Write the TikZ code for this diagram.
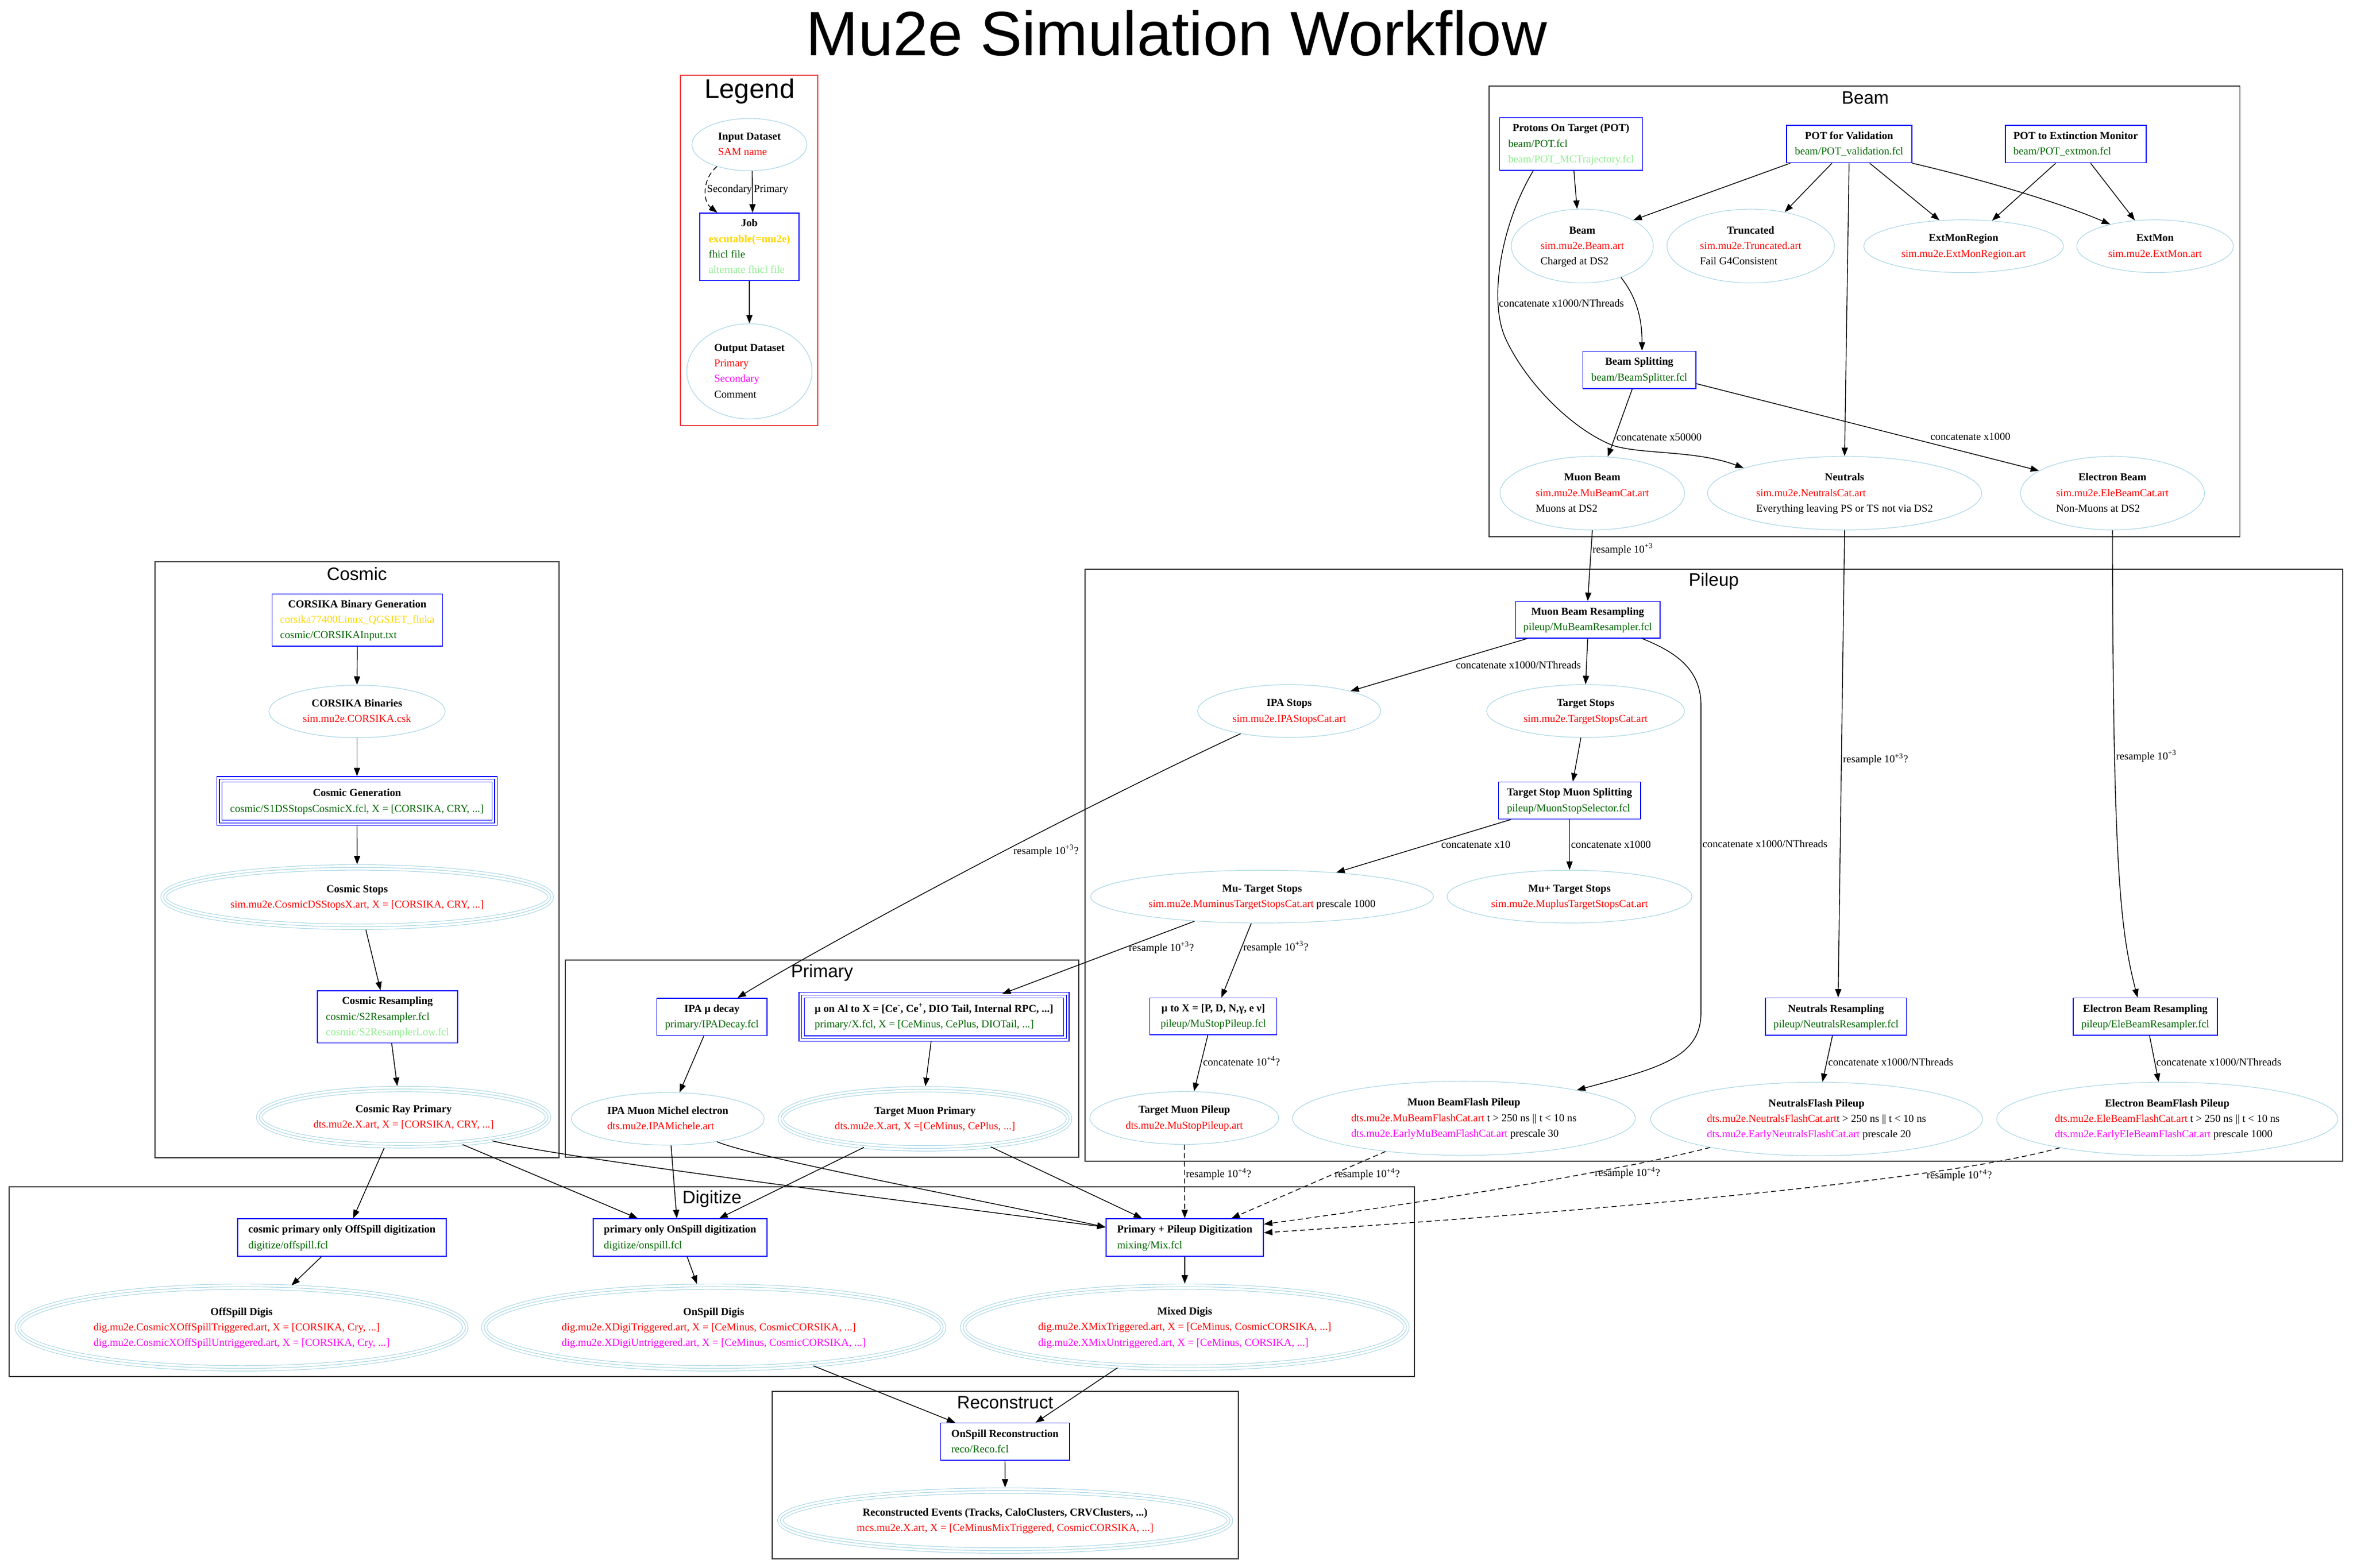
\documentclass[tikz,border=0pt]{standalone}
\usepackage{fontspec}
\setmainfont{Liberation Serif}
\newfontfamily\headfont{Liberation Sans}
\usepackage{tikz}
\usetikzlibrary{arrows.meta,shapes.geometric}

\definecolor{boxblue}{RGB}{0,0,255}
\definecolor{dsblue}{RGB}{173,216,230}
\definecolor{fclgreen}{RGB}{0,100,0}
\definecolor{altgreen}{RGB}{144,238,144}
\definecolor{exegold}{RGB}{255,215,0}
\definecolor{outred}{RGB}{255,0,0}
\definecolor{outmag}{RGB}{255,0,255}
\definecolor{legred}{RGB}{240,64,64}

\newlength{\pxu}
\setlength{\pxu}{1.3333pt}

% bold title over left aligned lines
\newcommand{\nlab}[2]{\begin{tabular}{@{}l@{}}\multicolumn{1}{@{}c@{}}{\bfseries #1}\\#2\end{tabular}}
\newcommand{\fcl}[1]{\textcolor{fclgreen}{#1}}
\newcommand{\altfcl}[1]{\textcolor{altgreen}{#1}}
\newcommand{\outp}[1]{\textcolor{outred}{#1}}
\newcommand{\outs}[1]{\textcolor{outmag}{#1}}
\newcommand{\exe}[1]{\textcolor{exegold}{#1}}

\begin{document}
\begin{tikzpicture}[
			x=1.3333pt, y=-1.3333pt,
			font=\fontsize{9.5}{13.8}\selectfont,
			>={Triangle[length=7.5pt,width=5.5pt]},
			line width=0.7pt,
			job/.style 2 args = {draw=boxblue, line width=0.8pt, rectangle, inner sep=0pt, minimum width=#1*\pxu, minimum height=#2*\pxu},
			jobtriple/.style 2 args = {job={#1}{#2}, line width=0.6pt, preaction={draw=boxblue, line width=5.4pt}, preaction={draw=white, line width=4.2pt}},
			dataset/.style 2 args = {draw=dsblue, line width=0.6pt, ellipse, inner sep=0pt, minimum width=2*#1*\pxu, minimum height=2*#2*\pxu},
			dsettriple/.style 2 args = {dataset={#1}{#2}, preaction={draw=dsblue, line width=5.4pt}, preaction={draw=white, line width=4.2pt}},
			lbl/.style = {inner sep=1pt},
			dashedge/.style = {dash pattern=on 4.5pt off 3pt},
			cluster/.style = {draw=black!80, line width=1pt},
			ctitle/.style = {font=\headfont\fontsize{16}{19}\selectfont}
		]
		\useasboundingbox (0,0) rectangle (1568,1045);
		\node[font=\headfont\fontsize{55.7}{60}\selectfont] (title) at (784,22) {Mu2e Simulation Workflow};
		% Draw the clusters.
		\draw[cluster, draw=legred] (453.5,50) rectangle (545,283.5);
		\node[font=\headfont\fontsize{24}{28}\selectfont] (legendtitle) at (499.5,60.8) {Legend};
		\draw[cluster] (992.4,57.3) rectangle (1492.6,357.6);
		\node[ctitle] (beamtitle) at (1243,65.2) {Beam};
		\draw[cluster] (103.3,374.3) rectangle (372.6,771.5);
		\node[ctitle] (cosmictitle) at (237.8,382.5) {Cosmic};
		\draw[cluster] (722.9,379.3) rectangle (1561,774);
		\node[ctitle] (pileuptitle) at (1142,387.5) {Pileup};
		\draw[cluster] (376.8,640) rectangle (718.7,771.4);
		\node[ctitle] (primarytitle) at (547.8,648.2) {Primary};
		\draw[cluster] (6,791) rectangle (942.7,917.6);
		\node[ctitle] (digitizetitle) at (474.5,799.1) {Digitize};
		\draw[cluster] (514.5,927.4) rectangle (825.3,1039.1);
		\node[ctitle] (recotitle) at (669.8,935) {Reconstruct};
		% Legend.
		\node[dataset={38.3}{17.4}] (legin) at (499.4,96.4) {\nlab{Input Dataset}{\outp{SAM name}}};
		\node[job={66.1}{45}] (legjob) at (499.4,164.5) {\nlab{Job}{\exe{\bfseries excutable(=mu2e)}\\\fcl{fhicl file}\\\altfcl{alternate fhicl file}}};
		\node[dataset={41.7}{31.7}] (legout) at (499.4,247.5) {\nlab{Output Dataset}{\outp{Primary}\\\outs{Secondary}\\Comment}};
		% Beam.
		\node[job={95.3}{35.1}] (pot) at (1046.9,96) {\nlab{Protons On Target (POT)}{\fcl{beam/POT.fcl}\\\altfcl{beam/POT\_MCTrajectory.fcl}}};
		\node[job={83.5}{24.9}] (potval) at (1232.2,96) {\nlab{POT for Validation}{\fcl{beam/POT\_validation.fcl}}};
		\node[job={93.9}{24.9}] (potext) at (1383.2,96) {\nlab{POT to Extinction Monitor}{\fcl{beam/POT\_extmon.fcl}}};
		\node[dataset={47.3}{24.6}] (beam) at (1054.4,164) {\nlab{Beam}{\outp{sim.mu2e.Beam.art}\\Charged at DS2}};
		\node[dataset={55.8}{24.6}] (trunc) at (1166.6,164) {\nlab{Truncated}{\outp{sim.mu2e.Truncated.art}\\Fail G4Consistent}};
		\node[dataset={66.5}{17.6}] (extreg) at (1308.5,164.1) {\nlab{ExtMonRegion}{\outp{sim.mu2e.ExtMonRegion.art}}};
		\node[dataset={52.2}{17.6}] (extmon) at (1436.1,164.1) {\nlab{ExtMon}{\outp{sim.mu2e.ExtMon.art}}};
		\node[job={75.3}{24.9}] (bsplit) at (1092.4,246.5) {\nlab{Beam Splitting}{\fcl{beam/BeamSplitter.fcl}}};
		\node[dataset={61.5}{24.5}] (mubeam) at (1061.1,328.7) {\nlab{Muon Beam}{\outp{sim.mu2e.MuBeamCat.art}\\Muons at DS2}};
		\node[dataset={91.3}{24.5}] (neutrals) at (1229.2,328.7) {\nlab{Neutrals}{\outp{sim.mu2e.NeutralsCat.art}\\Everything leaving PS or TS not via DS2}};
		\node[dataset={61.3}{24.5}] (elebeam) at (1407.7,328.7) {\nlab{Electron Beam}{\outp{sim.mu2e.EleBeamCat.art}\\Non-Muons at DS2}};
		% Cosmic.
		\node[job={113.5}{34.7}] (cbg) at (238.1,413.2) {\nlab{CORSIKA Binary Generation}{\exe{corsika77400Linux\_QGSJET\_fluka}\\\fcl{cosmic/CORSIKAInput.txt}}};
		\node[dataset={58.7}{17.5}] (cbin) at (237.9,474.2) {\nlab{CORSIKA Binaries}{\outp{sim.mu2e.CORSIKA.csk}}};
		\node[jobtriple={183.4}{29}] (cgen) at (237.9,533.9) {\nlab{Cosmic Generation}{\fcl{cosmic/S1DSStopsCosmicX.fcl, X = [CORSIKA, CRY, ...]}}};
		\node[dsettriple={129}{19.8}] (cstops) at (238,597.9) {\nlab{Cosmic Stops}{\outp{sim.mu2e.CosmicDSStopsX.art, X = [CORSIKA, CRY, ...]}}};
		\node[job={93.4}{34.7}] (cresamp) at (258.2,677.7) {\nlab{Cosmic Resampling}{\fcl{cosmic/S2Resampler.fcl}\\\altfcl{cosmic/S2ResamplerLow.fcl}}};
		\node[dsettriple={96.2}{18.8}] (crp) at (269,744.6) {\nlab{Cosmic Ray Primary}{\outp{dts.mu2e.X.art, X = [CORSIKA, CRY, ...]}}};
		% Pileup.
		\node[job={96.2}{24.4}] (mbr) at (1058,413.1) {\nlab{Muon Beam Resampling}{\fcl{pileup/MuBeamResampler.fcl}}};
		\node[dataset={61}{17.6}] (ipastops) at (859.1,473.9) {\nlab{IPA Stops}{\outp{sim.mu2e.IPAStopsCat.art}}};
		\node[dataset={65.9}{17.6}] (tstops) at (1056.6,473.9) {\nlab{Target Stops}{\outp{sim.mu2e.TargetStopsCat.art}}};
		\node[job={94.7}{24.7}] (tsms) at (1045.9,533.6) {\nlab{Target Stop Muon Splitting}{\fcl{pileup/MuonStopSelector.fcl}}};
		\node[dataset={114.2}{17.6}] (muminus) at (841,597.6) {\nlab{Mu- Target Stops}{\outp{sim.mu2e.MuminusTargetStopsCat.art} prescale 1000}};
		\node[dataset={81.6}{17.6}] (muplus) at (1045.9,597.6) {\nlab{Mu+ Target Stops}{\outp{sim.mu2e.MuplusTargetStopsCat.art}}};
		\node[job={84.7}{24.4}] (mutox) at (808.5,677.4) {\nlab{μ to X = [P, D, N,γ, e ν]}{\fcl{pileup/MuStopPileup.fcl}}};
		\node[dataset={62.9}{17.6}] (tmpile) at (789.2,745.1) {\nlab{Target Muon Pileup}{\outp{dts.mu2e.MuStopPileup.art}}};
		\node[dataset={114.2}{24.7}] (mbflash) at (975.5,745.3) {\nlab{Muon BeamFlash Pileup}{\outp{dts.mu2e.MuBeamFlashCat.art} t > 250 ns || t < 10 ns\\\outs{dts.mu2e.EarlyMuBeamFlashCat.art} prescale 30}};
		\node[job={94}{24.9}] (nresamp) at (1223.5,677.6) {\nlab{Neutrals Resampling}{\fcl{pileup/NeutralsResampler.fcl}}};
		\node[job={96.2}{24.9}] (ebr) at (1429.6,677.6) {\nlab{Electron Beam Resampling}{\fcl{pileup/EleBeamResampler.fcl}}};
		\node[dataset={110.6}{24.5}] (nflash) at (1210.5,745.8) {\nlab{NeutralsFlash Pileup}{\outp{dts.mu2e.NeutralsFlashCat.art}t > 250 ns || t < 10 ns\\\outs{dts.mu2e.EarlyNeutralsFlashCat.art} prescale 20}};
		\node[dataset={113.6}{24.5}] (ebflash) at (1444.2,745.8) {\nlab{Electron BeamFlash Pileup}{\outp{dts.mu2e.EleBeamFlashCat.art} t > 250 ns || t < 10 ns\\\outs{dts.mu2e.EarlyEleBeamFlashCat.art} prescale 1000}};
		% Primary.
		\node[job={73.4}{24.9}] (ipadecay) at (474.4,677.8) {\nlab{IPA μ decay}{\fcl{primary/IPADecay.fcl}}};
		\node[jobtriple={176.4}{28.9}] (mual) at (622.4,677.7) {\nlab{μ on Al to X = [Ce\textsuperscript{-}, Ce\textsuperscript{+}, DIO Tail, Internal RPC, ...]}{\fcl{primary/X.fcl, X = [CeMinus, CePlus, DIOTail, ...]}}};
		\node[dataset={64.2}{17.5}] (ipamichel) at (445,745.7) {\nlab{IPA Muon Michel electron}{\outp{dts.mu2e.IPAMichele.art}}};
		\node[dsettriple={96}{19.7}] (tmprim) at (616.4,745.7) {\nlab{Target Muon Primary}{\outp{dts.mu2e.X.art, X =[CeMinus, CePlus, ...]}}};
		% Digitize.
		\node[job={138.9}{25}] (offdig) at (227.9,824.8) {\nlab{cosmic primary only OffSpill digitization}{\fcl{digitize/offspill.fcl}}};
		\node[job={115.9}{25}] (ondig) at (453.2,824.8) {\nlab{primary only OnSpill digitization}{\fcl{digitize/onspill.fcl}}};
		\node[job={104.9}{25}] (mixdig) at (789.5,824.8) {\nlab{Primary + Pileup Digitization}{\fcl{mixing/Mix.fcl}}};
		\node[dsettriple={149.1}{27.2}] (offdigis) at (161,884.8) {\nlab{OffSpill Digis}{\outp{dig.mu2e.CosmicXOffSpillTriggered.art, X = [CORSIKA, Cry, ...]}\\\outs{dig.mu2e.CosmicXOffSpillUntriggered.art, X = [CORSIKA, Cry, ...]}}};
		\node[dsettriple={152.9}{27.2}] (ondigis) at (475.6,884.8) {\nlab{OnSpill Digis}{\outp{dig.mu2e.XDigiTriggered.art, X = [CeMinus, CosmicCORSIKA, ...]}\\\outs{dig.mu2e.XDigiUntriggered.art, X = [CeMinus, CosmicCORSIKA, ...]}}};
		\node[dsettriple={147.7}{27}] (mixdigis) at (789.5,884.6) {\nlab{Mixed Digis}{\outp{dig.mu2e.XMixTriggered.art, X = [CeMinus, CosmicCORSIKA, ...]}\\\outs{dig.mu2e.XMixUntriggered.art, X = [CeMinus, CORSIKA, ...]}}};
		% Reconstruct.
		\node[job={86}{24.8}] (reco) at (669.7,960.9) {\nlab{OnSpill Reconstruction}{\fcl{reco/Reco.fcl}}};
		\node[dsettriple={149.8}{20}] (recoev) at (669.8,1013.5) {\nlab{Reconstructed Events (Tracks, CaloClusters, CRVClusters, ...)}{\outp{mcs.mu2e.X.art, X = [CeMinusMixTriggered, CosmicCORSIKA, ...]}}};
		% Draw the legend edges.
		\draw[->] (legin.-84) -- ([shift={(2.1,0)}]legjob.north) node[lbl, pos=0.46, anchor=west] {Primary};
		\draw[->, dashedge] (legin.-146) .. controls (468,119) and (468,134) .. ([shift={(-21.4,0)}]legjob.north) node[lbl, pos=0.5, anchor=west, inner sep=0.5pt] {Secondary};
		\draw[->] (legjob.south) -- (legout.north);
		% Draw the beam edges.
		\draw[->] ([shift={(1.9,0)}]pot.south) -- (beam.98);
		\draw[->] ([shift={(-25.2,0)}]pot.south) .. controls (1000,150) and (992,200) .. (1003,225) node[lbl, pos=0.75, anchor=west, inner sep=0.5pt] {concatenate x1000/NThreads} .. controls (1015,252) and (1045,285) .. (1075,297) .. controls (1095,303) and (1130,300) .. (neutrals.166);
		\draw[->] ([shift={(-39.2,0)}]potval.south) -- (beam.27);
		\draw[->] ([shift={(-11.4,0)}]potval.south) -- (trunc.45);
		\draw[->] (potval.south) -- (neutrals.north);
		\draw[->] ([shift={(13.7,0)}]potval.south) -- (extreg.133);
		\draw[->] (potval.south east) .. controls (1318,119) and (1370,134) .. (extmon.154);
		\draw[->] ([shift={(-13.3,0)}]potext.south) -- (extreg.42);
		\draw[->] ([shift={(9.9,0)}]potext.south) -- (extmon.128);
		\draw[->] (beam.-39) .. controls (1092,200) and (1094.2,215) .. ([shift={(1.8,0)}]bsplit.north);
		\draw[->] ([shift={(-4.7,0)}]bsplit.south) -- (mubeam.67) node[lbl, pos=0.71, anchor=west] {concatenate x50000};
		\draw[->] ([shift={(0,9.2)}]bsplit.east) -- (elebeam.163) node[lbl, pos=0.8, yshift=14.7pt] {concatenate x1000};
		% Draw the pileup edges.
		\draw[->] (mubeam.south) -- (mbr.north) node[lbl, pos=0.27, anchor=west] {resample 10\textsuperscript{+3}};
		\draw[->] (neutrals.south) -- ([shift={(1.4,0)}]nresamp.north) node[lbl, pos=0.49, anchor=west] {resample 10\textsuperscript{+3}?};
		\draw[->] (elebeam.south) .. controls (1408,580) and (1413,620) .. ([shift={(-5.2,0)}]ebr.north) node[lbl, pos=0.28, anchor=west] {resample 10\textsuperscript{+3}};
		\draw[->] ([shift={(-40.3,0)}]mbr.south) -- (ipastops.18) node[lbl, pos=0.05, yshift=-21.2pt] {concatenate x1000/NThreads};
		\draw[->] (mbr.south) -- (tstops.north);
		\draw[->] ([shift={(36.3,0)}]mbr.south) .. controls (1115,434) and (1133.5,445) .. (1133.5,470) -- (1133.5,675) node[lbl, pos=0.45, anchor=west] {concatenate x1000/NThreads} .. controls (1133.5,705) and (1105,712) .. (mbflash.14);
		\draw[->] (tstops.-100) -- ([shift={(2.2,0)}]tsms.north);
		\draw[->] ([shift={(-39.2,0)}]tsms.south) -- (muminus.18) node[lbl, pos=0.2, yshift=-13pt] {concatenate x10};
		\draw[->] (tsms.south) -- (muplus.north) node[lbl, pos=0.5, anchor=west] {concatenate x1000};
		\draw[->] (muminus.-112) -- ([shift={(5.4,0)}]mutox.north) node[lbl, pos=0.32, anchor=west] {resample 10\textsuperscript{+3}?};
		\draw[->, shorten >=2.4pt] (muminus.-160) -- ([shift={(43.8,0)}]mual.north) node[lbl, pos=0.17, yshift=-12.4pt] {resample 10\textsuperscript{+3}?};
		\draw[->] (ipastops.-155) .. controls (700,548) and (540,635) .. ([shift={(17.1,0)}]ipadecay.north) node[lbl, pos=0.32, xshift=-3.3pt, yshift=-20.8pt] {resample 10\textsuperscript{+3}?};
		\draw[->] ([shift={(-3.6,0)}]mutox.south) -- (tmpile.70) node[lbl, pos=0.46, anchor=west] {concatenate 10\textsuperscript{+4}?};
		\draw[->] ([shift={(-2.4,0)}]nresamp.south) -- (nflash.81) node[lbl, pos=0.57, anchor=west] {concatenate x1000/NThreads};
		\draw[->] ([shift={(2.8,0)}]ebr.south) -- (ebflash.103) node[lbl, pos=0.57, anchor=west] {concatenate x1000/NThreads};
		% Draw the primary edges.
		\draw[->] ([shift={(-5.4,0)}]ipadecay.south) -- (ipamichel.66);
		\draw[->, shorten <=2.4pt, shorten >=2.4pt] ([shift={(-1.7,0)}]mual.south) -- (tmprim.north);
		% Draw the cosmic edges.
		\draw[->] (cbg.south) -- (cbin.north);
		\draw[->, shorten >=2.4pt] (cbin.south) -- (cgen.north);
		\draw[->, shorten <=2.4pt, shorten >=2.4pt] (cgen.south) -- (cstops.north);
		\draw[->, shorten <=2.4pt] (cstops.-75) -- ([shift={(-4.6,0)}]cresamp.north);
		\draw[->, shorten >=2.4pt] ([shift={(2.8,0)}]cresamp.south) -- (crp.102);
		% Draw the digitization inputs.
		\draw[->, shorten <=2.4pt] (crp.-123) -- ([shift={(7.4,0)}]offdig.north);
		\draw[->, shorten <=2.4pt] (crp.-25) -- ([shift={(-28.3,0)}]ondig.north);
		\draw[->, shorten <=2.4pt] (crp.-15) .. controls (375,772) and (600,800) .. ([shift={(0,-6.9)}]mixdig.west);
		\draw[->] (ipamichel.-83) -- ([shift={(-2.2,0)}]ondig.north);
		\draw[->] (ipamichel.-25) .. controls (505,772) and (640,797) .. ([shift={(0,-6.9)}]mixdig.west);
		\draw[->, shorten <=2.4pt] (tmprim.-155) -- ([shift={(26.1,0)}]ondig.north);
		\draw[->, shorten <=2.4pt] (tmprim.-23) -- ([shift={(-28.4,0)}]mixdig.north);
		\draw[->, dashedge] (tmpile.south) -- (mixdig.north) node[lbl, pos=0.4, anchor=west] {resample 10\textsuperscript{+4}?};
		\draw[->, dashedge] (mbflash.-157) -- ([shift={(31.1,0)}]mixdig.north) node[lbl, pos=0.34, anchor=west] {resample 10\textsuperscript{+4}?};
		\draw[->, dashedge] (nflash.-165) .. controls (1080,780) and (960,800) .. ([shift={(0,-8.9)}]mixdig.east) node[lbl, pos=0.25, anchor=north] {resample 10\textsuperscript{+4}?};
		\draw[->, dashedge] (ebflash.-165) .. controls (1290,788) and (1050,808) .. ([shift={(0,-3.2)}]mixdig.east) node[lbl, pos=0.2, anchor=north] {resample 10\textsuperscript{+4}?};
		% Draw the digitization outputs.
		\draw[->, shorten >=2.4pt] ([shift={(-13.7,0)}]offdig.south) -- (offdigis.40);
		\draw[->, shorten >=2.4pt] ([shift={(4.7,0)}]ondig.south) -- (ondigis.111);
		\draw[->, shorten >=2.4pt] (mixdig.south) -- (mixdigis.north);
		% Draw the reconstruction.
		\draw[->, shorten <=2.4pt] (ondigis.-21) -- ([shift={(-33.1,0)}]reco.north);
		\draw[->, shorten <=2.4pt] (mixdigis.-149) -- ([shift={(20.4,0)}]reco.north);
		\draw[->, shorten >=2.4pt] (reco.south) -- (recoev.north);
	\end{tikzpicture}
\end{document}
